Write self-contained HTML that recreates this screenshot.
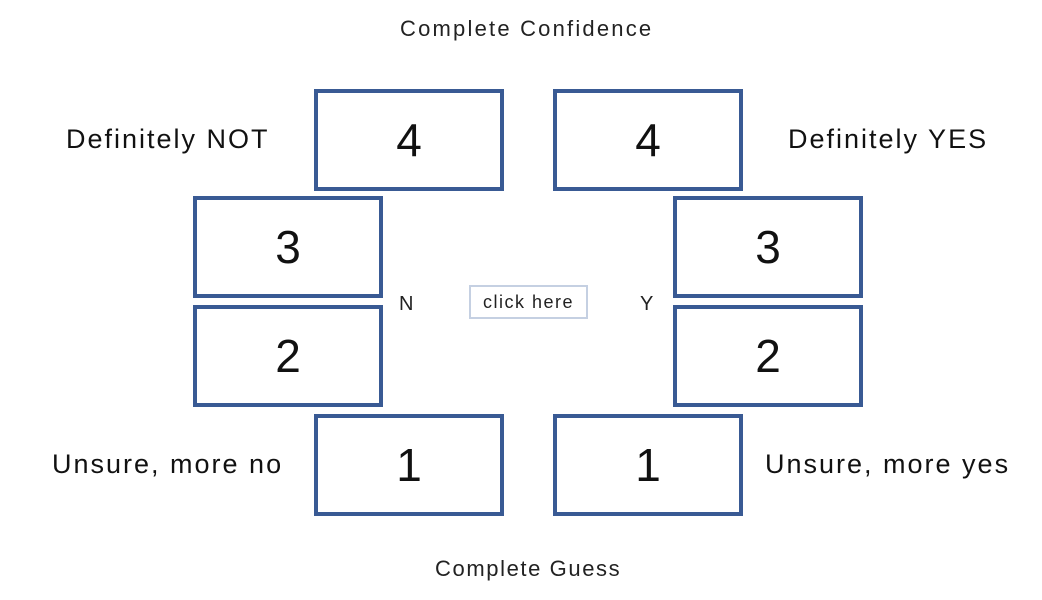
<!DOCTYPE html>
<html><head><meta charset="utf-8"><style>
body{margin:0;background:#fff;width:1042px;height:600px;position:relative;overflow:hidden;font-family:"Liberation Sans",sans-serif;}
.b{position:absolute;box-sizing:border-box;border:4px solid #395a94;width:190px;height:102px;display:flex;align-items:center;justify-content:center;font-size:46px;color:#111;}
.t{position:absolute;font-size:27px;letter-spacing:2px;color:#111;white-space:nowrap;}
.s{position:absolute;font-size:22px;letter-spacing:2px;color:#222;white-space:nowrap;}
</style></head><body>
<div class="s" style="left:400px;top:16px;letter-spacing:2.2px;">Complete Confidence</div>
<div class="s" style="left:435px;top:556px;letter-spacing:1.6px;">Complete Guess</div>
<div class="t" style="left:66px;top:124px;">Definitely NOT</div>
<div class="t" style="left:788px;top:124px;">Definitely YES</div>
<div class="t" style="left:52px;top:449px;">Unsure, more no</div>
<div class="t" style="left:765px;top:449px;">Unsure, more yes</div>
<div class="b" style="left:314px;top:89px;">4</div>
<div class="b" style="left:553px;top:89px;">4</div>
<div class="b" style="left:193px;top:196px;">3</div>
<div class="b" style="left:673px;top:196px;">3</div>
<div class="b" style="left:193px;top:305px;">2</div>
<div class="b" style="left:673px;top:305px;">2</div>
<div class="b" style="left:314px;top:414px;">1</div>
<div class="b" style="left:553px;top:414px;">1</div>
<div class="s" style="left:399px;top:293px;font-size:20px;letter-spacing:0;">N</div>
<div class="s" style="left:640px;top:293px;font-size:20px;letter-spacing:0;">Y</div>
<div style="position:absolute;left:469px;top:285px;width:119px;height:34px;box-sizing:border-box;border:2px solid #c5d0e2;display:flex;align-items:center;justify-content:center;font-size:18px;letter-spacing:1.5px;color:#222;">click here</div>
</body></html>
